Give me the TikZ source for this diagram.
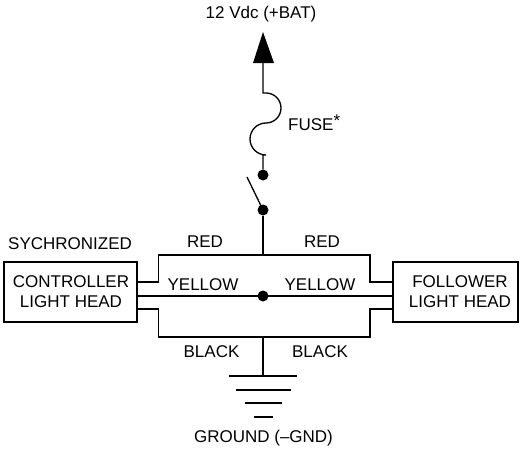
\documentclass[tikz,border=0pt]{standalone}
\usepackage{fontspec}
\setmainfont{Liberation Sans}
\begin{document}
\begin{tikzpicture}[x=1pt,y=-1pt,
  wire/.style={line width=1.3pt, line join=miter},
  lbl/.style={inner sep=0pt, font=\fontsize{17}{20}\selectfont},
  box/.style={draw, line width=1.3pt, minimum height=60pt, inner sep=0pt},
  dot/.style={circle, fill=black, inner sep=0pt, minimum size=11pt}]
\useasboundingbox (0,0) rectangle (520,455);
% supply
\coordinate (bat) at (263,63);
\coordinate (fa) at (263,93);
\coordinate (fb) at (263,155);
\node[dot] (sw1) at (263,175) {};
\node[dot] (sw2) at (263,210) {};
\coordinate (sw) at (247,177);
\coordinate (jr) at (263,255);
\node[dot] (mid) at (263,296) {};
\coordinate (jb) at (263,337);
\coordinate (gnd) at (263,376);
% boxes
\node[box, minimum width=133pt] (ctrl) at (70.5,292) {};
\node[box, minimum width=125pt] (foll) at (455.5,292) {};
\node[lbl, align=center] (ctrlt) at (71,292) {CONTROLLER\\LIGHT HEAD};
\node[lbl, align=center] (follt) at (460,292) {FOLLOWER\\LIGHT HEAD};
% arrow head
\fill (263,32) -- (274,63) -- (253,63) -- cycle;
% fuse
\draw[wire] (bat) -- (fa) -- (266,93) arc[start angle=-90, end angle=90, radius=15] arc[start angle=-90, end angle=-270, radius=16] -- (fb) -- (sw1);
% switch
\draw[wire] (sw) -- (sw2.center);
\draw[wire] (sw2) -- (jr);
% red
\draw[wire] ([yshift=10pt]ctrl.east) -- ++(21,0) |- (jr) -| (370,282) -- ([yshift=10pt]foll.west);
% yellow
\draw[wire] (ctrl.east |- mid) -- (mid.center) -- (foll.west |- mid);
% black
\draw[wire] ([yshift=-17pt]ctrl.east) -- ++(21,0) |- (jb) -| (370,309) -- ([yshift=-17pt]foll.west);
\draw[wire] (jb) -- (gnd);
% ground
\draw[wire] (229,376) -- (297,376);
\draw[wire] (236,390) -- (291,390);
\draw[wire] (245,403) -- (282,403);
\draw[wire] (254,417) -- (273,417);
% labels
\node[lbl, anchor=base] at (261,18) {12 Vdc (+BAT)};
\node[lbl, anchor=base west] at (288,130) {FUSE\raisebox{4pt}{*}};
\node[lbl, anchor=base west] at (8,249) {SYCHRONIZED};
\node[lbl, anchor=base] at (205,247) {RED};
\node[lbl, anchor=base] at (322,247) {RED};
\node[lbl, anchor=base] at (203,290) {YELLOW};
\node[lbl, anchor=base] at (320,290) {YELLOW};
\node[lbl, anchor=base] at (211.5,357) {BLACK};
\node[lbl, anchor=base] at (320,357) {BLACK};
\node[lbl, anchor=base] at (263.5,442) {GROUND (–GND)};
\end{tikzpicture}
\end{document}
